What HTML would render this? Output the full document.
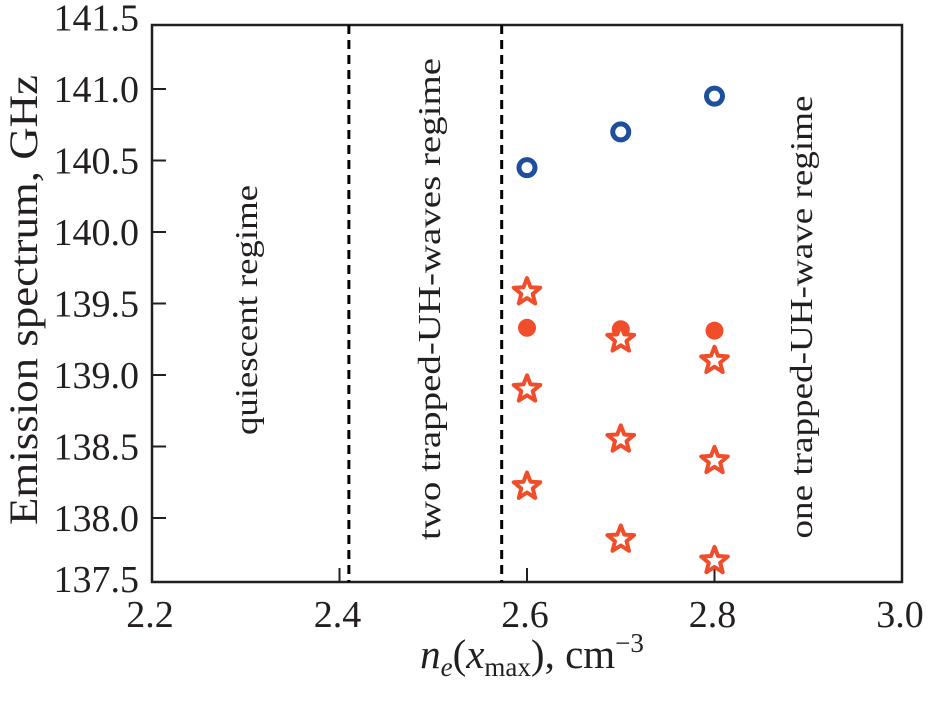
<!DOCTYPE html>
<html><head><meta charset="utf-8"><style>
body{margin:0;background:#fff}
svg text{font-family:"Liberation Serif",serif;fill:#231f20}
</style></head><body>
<svg id="chart" width="933" height="699" viewBox="0 0 933 699" xmlns="http://www.w3.org/2000/svg">
<g id="axes"></g>
<g id="marks"></g>
<text transform="translate(37,300) rotate(-90)" text-anchor="middle" font-size="40" textLength="450" lengthAdjust="spacingAndGlyphs">Emission spectrum, GHz</text>
<text x="532" y="668" text-anchor="middle" font-size="41"><tspan font-style="italic">n<tspan font-size="27" dy="8">e</tspan></tspan><tspan dy="-8">(</tspan><tspan font-style="italic">x</tspan><tspan font-size="27" dy="8">max</tspan><tspan dy="-8">), cm</tspan><tspan font-size="27" dy="-16">−3</tspan></text>
<text transform="translate(257,310) rotate(-90)" text-anchor="middle" font-size="32" textLength="250" lengthAdjust="spacingAndGlyphs">quiescent regime</text>
<text transform="translate(440,299) rotate(-90)" text-anchor="middle" font-size="32" textLength="482" lengthAdjust="spacingAndGlyphs">two trapped-UH-waves regime</text>
<text transform="translate(812,317) rotate(-90)" text-anchor="middle" font-size="32" textLength="443" lengthAdjust="spacingAndGlyphs">one trapped-UH-wave regime</text>
</svg>
<script>
const xTicks=[2.2,2.4,2.6,2.8,3.0];
const yTicks=[137.5,138.0,138.5,139.0,139.5,140.0,140.5,141.0,141.5];
const boundaries=[2.41,2.573];
const blueX=[2.6,2.7,2.8];
const blueY=[140.45,140.7,140.95];
const dotX=[2.6,2.7,2.8];
const dotY=[139.33,139.32,139.31];
const starX=[2.6,2.6,2.6,2.7,2.7,2.7,2.8,2.8,2.8];
const starY=[139.58,138.9,138.22,139.25,138.55,137.85,139.1,138.4,137.7];
const L=152,R=902,T=25,B=582;
const sx=v=>L+(v-2.2)/0.8*(R-L);
const sy=v=>89+(141-v)*143;
const NS="http://www.w3.org/2000/svg";
function mk(tag,attrs,parent){const e=document.createElementNS(NS,tag);for(const k in attrs)e.setAttribute(k,attrs[k]);parent.appendChild(e);return e;}
const ax=document.getElementById('axes'),mg=document.getElementById('marks');
const frame=mk('rect',{x:L,y:T,width:R-L,height:B-T,fill:'none',stroke:'#231f20','stroke-width':2.5},ax);


xTicks.forEach(v=>{
 const x=sx(v);
 const t=mk('line',{x1:x,x2:x,y1:B,y2:B-14,stroke:'#231f20','stroke-width':2},ax);
 
 
 const lb=mk('text',{x:x-2,y:627,'text-anchor':'middle','font-size':38},ax);
 lb.textContent=v.toFixed(1);
 
 
});
yTicks.forEach(v=>{
 const y=Math.min(Math.max(sy(v),T),B);
 const t=mk('line',{x1:L,x2:L+14,y1:y,y2:y,stroke:'#231f20','stroke-width':2},ax);
 
 
 const lb=mk('text',{x:139,y:Math.min(sy(v)+13,B+10),'text-anchor':'end','font-size':38},ax);
 lb.textContent=v.toFixed(1);
 
 
});
boundaries.forEach(v=>{
 const l=mk('line',{x1:sx(v),x2:sx(v),y1:T,y2:B,stroke:'#000','stroke-width':3,'stroke-dasharray':'9,6'},ax);
 
 
});
blueX.forEach((v,i)=>{
 const c=mk('circle',{cx:sx(v),cy:sy(blueY[i]),r:8,fill:'none',stroke:'#1d4f9c','stroke-width':5},mg);
 
 
});
dotX.forEach((v,i)=>{
 const c=mk('circle',{cx:sx(v),cy:sy(dotY[i]),r:9,fill:'#f04e2a'},mg);
 
 
});
function starPts(cx,cy,ro,ri){let p=[];for(let k=0;k<10;k++){const r=k%2?ri:ro;const a=-Math.PI/2+k*Math.PI/5;p.push((cx+r*Math.cos(a)).toFixed(1)+','+(cy+r*Math.sin(a)).toFixed(1));}return p.join(' ');}
starX.forEach((v,i)=>{
 const s=mk('polygon',{points:starPts(sx(v),sy(starY[i]),14,6),fill:'#fff',stroke:'#f04e2a','stroke-width':4,'stroke-linejoin':'round'},mg);
 
 
});
</script>
</body></html>
